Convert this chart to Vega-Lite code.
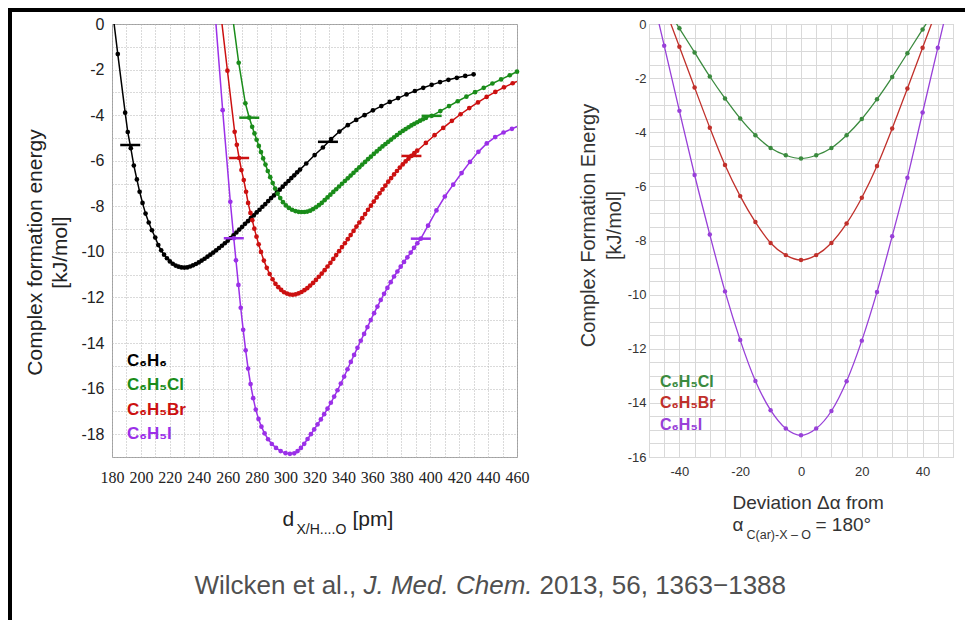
{
  "$schema": "https://vega.github.io/schema/vega-lite/v6.json",
  "background": "white",
  "padding": {"left": 8, "top": 8, "right": 0, "bottom": 0},
  "bounds": "flush",
  "spacing": 132,
  "resolve": {"scale": {"color": "independent"}, "legend": {"color": "independent"}},
  "config": {
    "font": "Liberation Sans",
    "axis": {"ticks": false, "domain": false},
    "legend": {"strokeWidth": 4}
  },
  "datasets": {
    "left": [
      {"s":"C₆H₆","x":180.9,"y":0.3,"edge":true},
      {"s":"C₆H₆","x":184.0,"y":-1.32},{"s":"C₆H₆","x":189.1,"y":-3.89},{"s":"C₆H₆","x":190.9,"y":-4.74},{"s":"C₆H₆","x":193.0,"y":-5.45},
      {"s":"C₆H₆","x":195.1,"y":-6.21},{"s":"C₆H₆","x":197.2,"y":-6.82},{"s":"C₆H₆","x":199.1,"y":-7.36},{"s":"C₆H₆","x":201.1,"y":-7.85},
      {"s":"C₆H₆","x":203.2,"y":-8.32},{"s":"C₆H₆","x":205.4,"y":-8.71},{"s":"C₆H₆","x":207.6,"y":-9.05},{"s":"C₆H₆","x":209.9,"y":-9.37},
      {"s":"C₆H₆","x":212,"y":-9.70},{"s":"C₆H₆","x":214,"y":-9.93},{"s":"C₆H₆","x":216,"y":-10.12},{"s":"C₆H₆","x":218,"y":-10.28},
      {"s":"C₆H₆","x":220,"y":-10.42},{"s":"C₆H₆","x":222,"y":-10.52},{"s":"C₆H₆","x":224,"y":-10.60},{"s":"C₆H₆","x":226,"y":-10.65},
      {"s":"C₆H₆","x":228,"y":-10.68},{"s":"C₆H₆","x":230,"y":-10.69},{"s":"C₆H₆","x":232,"y":-10.68},{"s":"C₆H₆","x":234,"y":-10.64},
      {"s":"C₆H₆","x":236,"y":-10.59},{"s":"C₆H₆","x":238,"y":-10.53},{"s":"C₆H₆","x":240,"y":-10.46},{"s":"C₆H₆","x":242,"y":-10.38},
      {"s":"C₆H₆","x":244,"y":-10.30},{"s":"C₆H₆","x":246,"y":-10.21},{"s":"C₆H₆","x":248,"y":-10.12},{"s":"C₆H₆","x":250,"y":-10.03},
      {"s":"C₆H₆","x":252,"y":-9.93},{"s":"C₆H₆","x":254,"y":-9.83},{"s":"C₆H₆","x":256,"y":-9.73},{"s":"C₆H₆","x":258,"y":-9.62},
      {"s":"C₆H₆","x":260,"y":-9.51},{"s":"C₆H₆","x":262,"y":-9.39},{"s":"C₆H₆","x":264,"y":-9.27},{"s":"C₆H₆","x":266,"y":-9.15},
      {"s":"C₆H₆","x":268,"y":-9.02},{"s":"C₆H₆","x":270,"y":-8.90},{"s":"C₆H₆","x":272,"y":-8.77},{"s":"C₆H₆","x":274,"y":-8.65},
      {"s":"C₆H₆","x":276,"y":-8.52},{"s":"C₆H₆","x":278,"y":-8.40},{"s":"C₆H₆","x":280,"y":-8.27},{"s":"C₆H₆","x":282,"y":-8.15},
      {"s":"C₆H₆","x":284,"y":-8.02},{"s":"C₆H₆","x":286,"y":-7.90},{"s":"C₆H₆","x":288,"y":-7.77},{"s":"C₆H₆","x":290,"y":-7.64},
      {"s":"C₆H₆","x":292,"y":-7.52},{"s":"C₆H₆","x":294,"y":-7.39},{"s":"C₆H₆","x":296,"y":-7.27},{"s":"C₆H₆","x":298,"y":-7.14},
      {"s":"C₆H₆","x":300,"y":-7.01},{"s":"C₆H₆","x":302,"y":-6.89},{"s":"C₆H₆","x":304,"y":-6.76},{"s":"C₆H₆","x":306,"y":-6.64},
      {"s":"C₆H₆","x":308,"y":-6.51},{"s":"C₆H₆","x":310,"y":-6.39},{"s":"C₆H₆","x":314.3,"y":-6.12},{"s":"C₆H₆","x":320.1,"y":-5.75},
      {"s":"C₆H₆","x":325.8,"y":-5.42},{"s":"C₆H₆","x":331.5,"y":-5.05},{"s":"C₆H₆","x":337.2,"y":-4.72},{"s":"C₆H₆","x":343.0,"y":-4.44},
      {"s":"C₆H₆","x":348.8,"y":-4.21},{"s":"C₆H₆","x":354.6,"y":-4.00},{"s":"C₆H₆","x":360.4,"y":-3.79},{"s":"C₆H₆","x":366.2,"y":-3.60},
      {"s":"C₆H₆","x":372.0,"y":-3.42},{"s":"C₆H₆","x":377.8,"y":-3.25},{"s":"C₆H₆","x":383.6,"y":-3.09},{"s":"C₆H₆","x":389.4,"y":-2.94},
      {"s":"C₆H₆","x":395.2,"y":-2.80},{"s":"C₆H₆","x":401.0,"y":-2.67},{"s":"C₆H₆","x":406.8,"y":-2.55},{"s":"C₆H₆","x":412.6,"y":-2.45},
      {"s":"C₆H₆","x":418.4,"y":-2.36},{"s":"C₆H₆","x":424.2,"y":-2.28},{"s":"C₆H₆","x":430.0,"y":-2.21},

      {"s":"C₆H₅Cl","x":263.4,"y":0.3,"edge":true},
      {"s":"C₆H₅Cl","x":267.6,"y":-1.70},{"s":"C₆H₅Cl","x":272.2,"y":-3.48},{"s":"C₆H₅Cl","x":274.9,"y":-4.11},{"s":"C₆H₅Cl","x":276.9,"y":-4.51},
      {"s":"C₆H₅Cl","x":278.5,"y":-4.80},{"s":"C₆H₅Cl","x":280.0,"y":-5.08},{"s":"C₆H₅Cl","x":281.5,"y":-5.35},{"s":"C₆H₅Cl","x":283.0,"y":-5.62},
      {"s":"C₆H₅Cl","x":284.5,"y":-5.90},{"s":"C₆H₅Cl","x":286.1,"y":-6.17},{"s":"C₆H₅Cl","x":287.7,"y":-6.45},{"s":"C₆H₅Cl","x":289.4,"y":-6.72},
      {"s":"C₆H₅Cl","x":291.1,"y":-6.98},{"s":"C₆H₅Cl","x":292.8,"y":-7.22},{"s":"C₆H₅Cl","x":294.5,"y":-7.44},{"s":"C₆H₅Cl","x":296.3,"y":-7.64},
      {"s":"C₆H₅Cl","x":298.2,"y":-7.82},{"s":"C₆H₅Cl","x":300.2,"y":-7.96},{"s":"C₆H₅Cl","x":302.3,"y":-8.07},{"s":"C₆H₅Cl","x":304.5,"y":-8.15},
      {"s":"C₆H₅Cl","x":306.8,"y":-8.21},{"s":"C₆H₅Cl","x":309,"y":-8.24},{"s":"C₆H₅Cl","x":311,"y":-8.25},{"s":"C₆H₅Cl","x":313,"y":-8.25},
      {"s":"C₆H₅Cl","x":315,"y":-8.23},{"s":"C₆H₅Cl","x":317,"y":-8.19},{"s":"C₆H₅Cl","x":319,"y":-8.12},{"s":"C₆H₅Cl","x":321,"y":-8.04},
      {"s":"C₆H₅Cl","x":323,"y":-7.95},{"s":"C₆H₅Cl","x":325,"y":-7.85},{"s":"C₆H₅Cl","x":327,"y":-7.73},{"s":"C₆H₅Cl","x":329,"y":-7.61},
      {"s":"C₆H₅Cl","x":331,"y":-7.49},{"s":"C₆H₅Cl","x":333,"y":-7.37},{"s":"C₆H₅Cl","x":335,"y":-7.25},{"s":"C₆H₅Cl","x":337,"y":-7.13},
      {"s":"C₆H₅Cl","x":339,"y":-7.01},{"s":"C₆H₅Cl","x":341,"y":-6.89},{"s":"C₆H₅Cl","x":343,"y":-6.77},{"s":"C₆H₅Cl","x":345,"y":-6.65},
      {"s":"C₆H₅Cl","x":347,"y":-6.53},{"s":"C₆H₅Cl","x":349,"y":-6.41},{"s":"C₆H₅Cl","x":351,"y":-6.29},{"s":"C₆H₅Cl","x":353,"y":-6.17},
      {"s":"C₆H₅Cl","x":355,"y":-6.05},{"s":"C₆H₅Cl","x":357,"y":-5.93},{"s":"C₆H₅Cl","x":359,"y":-5.82},{"s":"C₆H₅Cl","x":361,"y":-5.70},
      {"s":"C₆H₅Cl","x":363,"y":-5.59},{"s":"C₆H₅Cl","x":365,"y":-5.48},{"s":"C₆H₅Cl","x":367,"y":-5.37},{"s":"C₆H₅Cl","x":369,"y":-5.27},
      {"s":"C₆H₅Cl","x":371,"y":-5.17},{"s":"C₆H₅Cl","x":373,"y":-5.07},{"s":"C₆H₅Cl","x":375,"y":-4.97},{"s":"C₆H₅Cl","x":377,"y":-4.87},
      {"s":"C₆H₅Cl","x":379,"y":-4.78},{"s":"C₆H₅Cl","x":381,"y":-4.69},{"s":"C₆H₅Cl","x":383,"y":-4.61},{"s":"C₆H₅Cl","x":385,"y":-4.53},
      {"s":"C₆H₅Cl","x":387,"y":-4.45},{"s":"C₆H₅Cl","x":389,"y":-4.38},{"s":"C₆H₅Cl","x":391,"y":-4.31},{"s":"C₆H₅Cl","x":393,"y":-4.24},
      {"s":"C₆H₅Cl","x":395,"y":-4.18},{"s":"C₆H₅Cl","x":397,"y":-4.12},{"s":"C₆H₅Cl","x":401,"y":-4.03},{"s":"C₆H₅Cl","x":407,"y":-3.82},
      {"s":"C₆H₅Cl","x":413,"y":-3.60},{"s":"C₆H₅Cl","x":419,"y":-3.39},{"s":"C₆H₅Cl","x":425,"y":-3.19},{"s":"C₆H₅Cl","x":431,"y":-2.99},
      {"s":"C₆H₅Cl","x":437,"y":-2.80},{"s":"C₆H₅Cl","x":443,"y":-2.61},{"s":"C₆H₅Cl","x":449,"y":-2.43},{"s":"C₆H₅Cl","x":455,"y":-2.25},
      {"s":"C₆H₅Cl","x":460,"y":-2.09},

      {"s":"C₆H₅Br","x":255.5,"y":0.3,"edge":true},
      {"s":"C₆H₅Br","x":259.8,"y":-2.05},{"s":"C₆H₅Br","x":264.8,"y":-4.73},{"s":"C₆H₅Br","x":266.3,"y":-5.30},{"s":"C₆H₅Br","x":267.9,"y":-5.88},
      {"s":"C₆H₅Br","x":269.5,"y":-6.41},{"s":"C₆H₅Br","x":271.1,"y":-6.85},{"s":"C₆H₅Br","x":272.7,"y":-7.36},{"s":"C₆H₅Br","x":274.1,"y":-7.85},
      {"s":"C₆H₅Br","x":275.7,"y":-8.29},{"s":"C₆H₅Br","x":277.0,"y":-8.61},{"s":"C₆H₅Br","x":278.4,"y":-8.98},{"s":"C₆H₅Br","x":279.9,"y":-9.33},
      {"s":"C₆H₅Br","x":281.4,"y":-9.67},{"s":"C₆H₅Br","x":283,"y":-10.00},{"s":"C₆H₅Br","x":285,"y":-10.38},{"s":"C₆H₅Br","x":287,"y":-10.70},
      {"s":"C₆H₅Br","x":289,"y":-10.97},{"s":"C₆H₅Br","x":291,"y":-11.20},{"s":"C₆H₅Br","x":293,"y":-11.40},{"s":"C₆H₅Br","x":295,"y":-11.55},
      {"s":"C₆H₅Br","x":297,"y":-11.67},{"s":"C₆H₅Br","x":299,"y":-11.77},{"s":"C₆H₅Br","x":301,"y":-11.83},{"s":"C₆H₅Br","x":303,"y":-11.87},
      {"s":"C₆H₅Br","x":305,"y":-11.88},{"s":"C₆H₅Br","x":307,"y":-11.86},{"s":"C₆H₅Br","x":309,"y":-11.82},{"s":"C₆H₅Br","x":311,"y":-11.76},
      {"s":"C₆H₅Br","x":313,"y":-11.68},{"s":"C₆H₅Br","x":315,"y":-11.59},{"s":"C₆H₅Br","x":317,"y":-11.48},{"s":"C₆H₅Br","x":319,"y":-11.36},
      {"s":"C₆H₅Br","x":321,"y":-11.23},{"s":"C₆H₅Br","x":323,"y":-11.09},{"s":"C₆H₅Br","x":325,"y":-10.95},{"s":"C₆H₅Br","x":327,"y":-10.80},
      {"s":"C₆H₅Br","x":329,"y":-10.64},{"s":"C₆H₅Br","x":331,"y":-10.48},{"s":"C₆H₅Br","x":333,"y":-10.31},{"s":"C₆H₅Br","x":335,"y":-10.14},
      {"s":"C₆H₅Br","x":337,"y":-9.97},{"s":"C₆H₅Br","x":339,"y":-9.79},{"s":"C₆H₅Br","x":341,"y":-9.62},{"s":"C₆H₅Br","x":343,"y":-9.44},
      {"s":"C₆H₅Br","x":345,"y":-9.26},{"s":"C₆H₅Br","x":347,"y":-9.08},{"s":"C₆H₅Br","x":349,"y":-8.89},{"s":"C₆H₅Br","x":351,"y":-8.71},
      {"s":"C₆H₅Br","x":353,"y":-8.52},{"s":"C₆H₅Br","x":355,"y":-8.34},{"s":"C₆H₅Br","x":357,"y":-8.15},{"s":"C₆H₅Br","x":359,"y":-7.97},
      {"s":"C₆H₅Br","x":361,"y":-7.79},{"s":"C₆H₅Br","x":363,"y":-7.61},{"s":"C₆H₅Br","x":365,"y":-7.43},{"s":"C₆H₅Br","x":367,"y":-7.26},
      {"s":"C₆H₅Br","x":369,"y":-7.09},{"s":"C₆H₅Br","x":371,"y":-6.92},{"s":"C₆H₅Br","x":373,"y":-6.76},{"s":"C₆H₅Br","x":375,"y":-6.60},
      {"s":"C₆H₅Br","x":377,"y":-6.45},{"s":"C₆H₅Br","x":379,"y":-6.30},{"s":"C₆H₅Br","x":381,"y":-6.16},{"s":"C₆H₅Br","x":383,"y":-6.03},
      {"s":"C₆H₅Br","x":385,"y":-5.91},{"s":"C₆H₅Br","x":387,"y":-5.79},{"s":"C₆H₅Br","x":389,"y":-5.67},{"s":"C₆H₅Br","x":391,"y":-5.56},
      {"s":"C₆H₅Br","x":397,"y":-5.22},{"s":"C₆H₅Br","x":403,"y":-4.88},{"s":"C₆H₅Br","x":409,"y":-4.56},{"s":"C₆H₅Br","x":415,"y":-4.25},
      {"s":"C₆H₅Br","x":421,"y":-3.96},{"s":"C₆H₅Br","x":427,"y":-3.69},{"s":"C₆H₅Br","x":433,"y":-3.44},{"s":"C₆H₅Br","x":439,"y":-3.20},
      {"s":"C₆H₅Br","x":445,"y":-2.98},{"s":"C₆H₅Br","x":451,"y":-2.78},{"s":"C₆H₅Br","x":457,"y":-2.60},{"s":"C₆H₅Br","x":460,"y":-2.52,"edge":true},

      {"s":"C₆H₅I","x":251.5,"y":0.3,"edge":true},
      {"s":"C₆H₅I","x":256.5,"y":-3.78},{"s":"C₆H₅I","x":261.8,"y":-7.80},{"s":"C₆H₅I","x":264.2,"y":-9.40},{"s":"C₆H₅I","x":265.7,"y":-10.37},
      {"s":"C₆H₅I","x":267.4,"y":-11.45},{"s":"C₆H₅I","x":269.0,"y":-12.45},{"s":"C₆H₅I","x":270.7,"y":-13.42},{"s":"C₆H₅I","x":272.4,"y":-14.32},
      {"s":"C₆H₅I","x":274.1,"y":-15.12},{"s":"C₆H₅I","x":275.8,"y":-15.80},{"s":"C₆H₅I","x":277.6,"y":-16.42},{"s":"C₆H₅I","x":279.4,"y":-16.92},
      {"s":"C₆H₅I","x":281.3,"y":-17.33},{"s":"C₆H₅I","x":283.3,"y":-17.67},{"s":"C₆H₅I","x":285.5,"y":-17.96},{"s":"C₆H₅I","x":287.9,"y":-18.22},
      {"s":"C₆H₅I","x":290.5,"y":-18.43},{"s":"C₆H₅I","x":293.4,"y":-18.60},{"s":"C₆H₅I","x":296.6,"y":-18.74},{"s":"C₆H₅I","x":300.0,"y":-18.83},
      {"s":"C₆H₅I","x":303.0,"y":-18.86},{"s":"C₆H₅I","x":306.0,"y":-18.84},{"s":"C₆H₅I","x":308.3,"y":-18.74},{"s":"C₆H₅I","x":310.6,"y":-18.60},
      {"s":"C₆H₅I","x":312.9,"y":-18.42},{"s":"C₆H₅I","x":315.2,"y":-18.21},{"s":"C₆H₅I","x":317.5,"y":-18.00},{"s":"C₆H₅I","x":319.8,"y":-17.79},
      {"s":"C₆H₅I","x":322.1,"y":-17.57},{"s":"C₆H₅I","x":324.4,"y":-17.35},{"s":"C₆H₅I","x":326.7,"y":-17.12},{"s":"C₆H₅I","x":329.0,"y":-16.88},
      {"s":"C₆H₅I","x":331.3,"y":-16.62},{"s":"C₆H₅I","x":333.6,"y":-16.35},{"s":"C₆H₅I","x":335.9,"y":-16.07},{"s":"C₆H₅I","x":338.2,"y":-15.78},
      {"s":"C₆H₅I","x":340.5,"y":-15.47},{"s":"C₆H₅I","x":342.8,"y":-15.15},{"s":"C₆H₅I","x":345.1,"y":-14.83},{"s":"C₆H₅I","x":347.4,"y":-14.52},
      {"s":"C₆H₅I","x":349.7,"y":-14.21},{"s":"C₆H₅I","x":352.0,"y":-13.90},{"s":"C₆H₅I","x":354.3,"y":-13.60},{"s":"C₆H₅I","x":356.6,"y":-13.30},
      {"s":"C₆H₅I","x":358.9,"y":-12.99},{"s":"C₆H₅I","x":361.2,"y":-12.69},{"s":"C₆H₅I","x":363.5,"y":-12.40},{"s":"C₆H₅I","x":365.8,"y":-12.11},
      {"s":"C₆H₅I","x":368.1,"y":-11.84},{"s":"C₆H₅I","x":370.4,"y":-11.58},{"s":"C₆H₅I","x":372.7,"y":-11.33},{"s":"C₆H₅I","x":375.0,"y":-11.08},
      {"s":"C₆H₅I","x":377.3,"y":-10.86},{"s":"C₆H₅I","x":379.6,"y":-10.65},{"s":"C₆H₅I","x":381.9,"y":-10.44},{"s":"C₆H₅I","x":384.2,"y":-10.24},
      {"s":"C₆H₅I","x":386.5,"y":-10.03},{"s":"C₆H₅I","x":388.8,"y":-9.82},{"s":"C₆H₅I","x":391.1,"y":-9.62},{"s":"C₆H₅I","x":393.5,"y":-9.42},
      {"s":"C₆H₅I","x":398.5,"y":-8.85},{"s":"C₆H₅I","x":404.3,"y":-8.18},{"s":"C₆H₅I","x":410.1,"y":-7.57},{"s":"C₆H₅I","x":415.9,"y":-7.05},
      {"s":"C₆H₅I","x":421.7,"y":-6.54},{"s":"C₆H₅I","x":427.5,"y":-6.05},{"s":"C₆H₅I","x":433.3,"y":-5.61},{"s":"C₆H₅I","x":439.1,"y":-5.24},
      {"s":"C₆H₅I","x":444.9,"y":-4.96},{"s":"C₆H₅I","x":450.7,"y":-4.76},{"s":"C₆H₅I","x":456.5,"y":-4.60},{"s":"C₆H₅I","x":460,"y":-4.50,"edge":true}
    ],
    "leftCross": [
      {"s":"C₆H₆","x":192.6,"y":-5.31},{"s":"C₆H₆","x":329.3,"y":-5.17},
      {"s":"C₆H₅Cl","x":274.9,"y":-4.11},{"s":"C₆H₅Cl","x":401,"y":-4.03},
      {"s":"C₆H₅Br","x":267.9,"y":-5.88},{"s":"C₆H₅Br","x":387,"y":-5.79},
      {"s":"C₆H₅I","x":264.2,"y":-9.40},{"s":"C₆H₅I","x":393.5,"y":-9.42}
    ],
    "right": [
      {"s":"C₆H₅Cl","x":-42.6,"y":0.3,"edge":true},
      {"s":"C₆H₅Cl","x":-40,"y":-0.16},{"s":"C₆H₅Cl","x":-35,"y":-1.05},{"s":"C₆H₅Cl","x":-30,"y":-1.94},{"s":"C₆H₅Cl","x":-25,"y":-2.75},
      {"s":"C₆H₅Cl","x":-20,"y":-3.49},{"s":"C₆H₅Cl","x":-15,"y":-4.11},{"s":"C₆H₅Cl","x":-10,"y":-4.58},{"s":"C₆H₅Cl","x":-5,"y":-4.85},
      {"s":"C₆H₅Cl","x":0,"y":-4.97},{"s":"C₆H₅Cl","x":5,"y":-4.85},{"s":"C₆H₅Cl","x":10,"y":-4.58},{"s":"C₆H₅Cl","x":15,"y":-4.11},
      {"s":"C₆H₅Cl","x":20,"y":-3.51},{"s":"C₆H₅Cl","x":25,"y":-2.78},{"s":"C₆H₅Cl","x":30,"y":-1.96},{"s":"C₆H₅Cl","x":35,"y":-1.08},
      {"s":"C₆H₅Cl","x":40,"y":-0.20},{"s":"C₆H₅Cl","x":42.8,"y":0.3,"edge":true},

      {"s":"C₆H₅Br","x":-43.8,"y":0.3,"edge":true},
      {"s":"C₆H₅Br","x":-40,"y":-0.84},{"s":"C₆H₅Br","x":-35,"y":-2.35},{"s":"C₆H₅Br","x":-30,"y":-3.83},{"s":"C₆H₅Br","x":-25,"y":-5.21},
      {"s":"C₆H₅Br","x":-20,"y":-6.36},{"s":"C₆H₅Br","x":-15,"y":-7.32},{"s":"C₆H₅Br","x":-10,"y":-8.09},{"s":"C₆H₅Br","x":-5,"y":-8.54},
      {"s":"C₆H₅Br","x":0,"y":-8.72},{"s":"C₆H₅Br","x":5,"y":-8.54},{"s":"C₆H₅Br","x":10,"y":-8.09},{"s":"C₆H₅Br","x":15,"y":-7.37},
      {"s":"C₆H₅Br","x":20,"y":-6.42},{"s":"C₆H₅Br","x":25,"y":-5.25},{"s":"C₆H₅Br","x":30,"y":-3.86},{"s":"C₆H₅Br","x":35,"y":-2.38},
      {"s":"C₆H₅Br","x":40,"y":-0.88},{"s":"C₆H₅Br","x":43.9,"y":0.3,"edge":true},

      {"s":"C₆H₅I","x":-47.3,"y":0.3,"edge":true},
      {"s":"C₆H₅I","x":-45,"y":-0.80},{"s":"C₆H₅I","x":-40,"y":-3.21},{"s":"C₆H₅I","x":-35,"y":-5.58},{"s":"C₆H₅I","x":-30,"y":-7.78},
      {"s":"C₆H₅I","x":-25,"y":-9.88},{"s":"C₆H₅I","x":-20,"y":-11.68},{"s":"C₆H₅I","x":-15,"y":-13.19},{"s":"C₆H₅I","x":-10,"y":-14.27},
      {"s":"C₆H₅I","x":-5,"y":-14.95},{"s":"C₆H₅I","x":0,"y":-15.20},{"s":"C₆H₅I","x":5,"y":-14.95},{"s":"C₆H₅I","x":10,"y":-14.30},
      {"s":"C₆H₅I","x":15,"y":-13.20},{"s":"C₆H₅I","x":20,"y":-11.70},{"s":"C₆H₅I","x":25,"y":-9.90},{"s":"C₆H₅I","x":30,"y":-7.84},
      {"s":"C₆H₅I","x":35,"y":-5.68},{"s":"C₆H₅I","x":40,"y":-3.27},{"s":"C₆H₅I","x":45,"y":-0.88},{"s":"C₆H₅I","x":47.5,"y":0.3,"edge":true}
    ]
  },
  "hconcat": [
    {
      "width": 405,
      "height": 433,
      "view": {"stroke": "#a0a0a0"},
      "resolve": {"axis": {"x": "independent"}},
      "encoding": {
        "y": {"field": "y", "type": "quantitative",
          "scale": {"domain": [-19, 0], "nice": false, "zero": false},
          "axis": {
            "values": [0,-1,-2,-3,-4,-5,-6,-7,-8,-9,-10,-11,-12,-13,-14,-15,-16,-17,-18,-19],
            "labelExpr": "datum.value % 2 === 0 ? toString(datum.value) : ''",
            "grid": true, "gridColor": "#b5b5b5", "gridDash": [1, 2], "gridWidth": 1,
            "labelFontSize": 16, "labelColor": "#222222", "labelPadding": 8, "labelOverlap": false,
            "title": ["Complex formation energy", "[kJ/mol]"],
            "titleFontSize": 21, "titleFontWeight": "normal", "titleColor": "#222222", "titleLineHeight": 25,
            "titleAngle": 270, "titleAlign": "center", "titleBaseline": "bottom", "titleX": -67, "titleY": 228
          }
        },
        "color": {"field": "s", "type": "nominal",
          "scale": {"domain": ["C₆H₆", "C₆H₅Cl", "C₆H₅Br", "C₆H₅I"], "range": ["#000000", "#1a8c1a", "#cc1010", "#9b30e8"]},
          "legend": {
            "title": null, "orient": "bottom-left", "offset": 15, "padding": 0,
            "symbolSize": 0, "symbolStrokeWidth": 0, "symbolOpacity": 0, "symbolType": "circle",
            "labelOffset": -17, "labelFontSize": 17, "labelFontWeight": "bold", "labelLimit": 300, "rowPadding": 6.5,
            "labelColor": {"expr": "datum.value === 'C₆H₆' ? '#000000' : datum.value === 'C₆H₅Cl' ? '#1a8c1a' : datum.value === 'C₆H₅Br' ? '#cc1010' : '#9b30e8'"}
          }
        }
      },
      "layer": [
        {"data": {"name": "left"}, "mark": {"type": "line", "clip": true, "strokeWidth": 1.5, "interpolate": "linear"},
          "encoding": {
            "x": {"field": "x", "type": "quantitative",
              "scale": {"domain": [180, 460], "nice": false, "zero": false},
              "axis": {
                "values": [180,190,200,210,220,230,240,250,260,270,280,290,300,310,320,330,340,350,360,370,380,390,400,410,420,430,440,450,460],
                "labelExpr": "datum.value % 20 === 0 ? toString(datum.value) : ''",
                "grid": true, "gridColor": "#b5b5b5", "gridDash": [1, 2], "gridWidth": 1,
                "labelFont": "Liberation Sans Narrow", "labelFontSize": 16, "labelColor": "#222222", "labelPadding": 12,
                "labelFlush": false, "labelOverlap": false,
                "title": "d",
                "titleFontSize": 21, "titleFontWeight": "normal", "titleColor": "#222222",
                "titleAlign": "left", "titleX": 170, "titleY": 68, "titleBaseline": "alphabetic"
              }
            }
          }
        },
        {"data": {"name": "left"}, "transform": [{"filter": "!datum.edge"}], "mark": {"type": "circle", "size": 22, "opacity": 1},
          "encoding": {
            "x": {"field": "x", "type": "quantitative",
              "scale": {"domain": [180, 460], "nice": false, "zero": false},
              "axis": {
                "orient": "bottom", "labels": false, "grid": false, "ticks": false, "domain": false,
                "title": "[pm]",
                "titleFontSize": 21, "titleFontWeight": "normal", "titleColor": "#222222",
                "titleAlign": "left", "titleX": 240, "titleY": 68, "titleBaseline": "alphabetic"
              }
            }
          }
        },
        {"data": {"name": "leftCross"}, "mark": {"type": "tick", "orient": "horizontal", "size": 20, "thickness": 2.5, "opacity": 1},
          "encoding": {
            "x": {"field": "x", "type": "quantitative",
              "scale": {"domain": [180, 460], "nice": false, "zero": false},
              "axis": {
                "orient": "bottom", "labels": false, "grid": false, "ticks": false, "domain": false,
                "title": "X/H....O",
                "titleFontSize": 14, "titleFontWeight": "normal", "titleColor": "#222222",
                "titleAlign": "left", "titleX": 184, "titleY": 76, "titleBaseline": "alphabetic"
              }
            }
          }
        },
        {"data": {"name": "leftCross"}, "mark": {"type": "point", "opacity": 0, "filled": true},
          "encoding": {
            "x": {"field": "x", "type": "quantitative",
              "scale": {"domain": [180, 460], "nice": false, "zero": false},
              "axis": {
                "orient": "bottom", "labels": false, "grid": false, "ticks": false, "domain": false,
                "title": "Wilcken et al.,",
                "titleFontSize": 26, "titleFontWeight": "normal", "titleColor": "#505050",
                "titleAlign": "left", "titleX": 82, "titleY": 136, "titleBaseline": "alphabetic"
              }
            },
            "shape": {"datum": "frame", "scale": {"range": ["circle"]},
              "legend": {
                "orient": "none", "legendX": -102, "legendY": -14, "title": null,
                "padding": 305, "strokeColor": "#000000",
                "symbolSize": 400, "symbolOpacity": 0, "symbolStrokeWidth": 0,
                "labelOffset": 352, "labelFontSize": 10, "labelExpr": "'\u00a0'"
              }
            }
          }
        },
        {"data": {"name": "leftCross"}, "mark": {"type": "point", "opacity": 0, "filled": true},
          "encoding": {
            "x": {"field": "x", "type": "quantitative",
              "scale": {"domain": [180, 460], "nice": false, "zero": false},
              "axis": {
                "orient": "bottom", "labels": false, "grid": false, "ticks": false, "domain": false,
                "title": "J. Med. Chem.",
                "titleFontSize": 26, "titleFontWeight": "normal", "titleFontStyle": "italic", "titleColor": "#505050",
                "titleAlign": "left", "titleX": 251, "titleY": 136, "titleBaseline": "alphabetic"
              }
            }
          }
        },
        {"data": {"name": "leftCross"}, "mark": {"type": "point", "opacity": 0, "filled": true},
          "encoding": {
            "x": {"field": "x", "type": "quantitative",
              "scale": {"domain": [180, 460], "nice": false, "zero": false},
              "axis": {
                "orient": "bottom", "labels": false, "grid": false, "ticks": false, "domain": false,
                "title": "2013, 56, 1363−1388",
                "titleFontSize": 26, "titleFontWeight": "normal", "titleColor": "#505050",
                "titleAlign": "left", "titleX": 427, "titleY": 136, "titleBaseline": "alphabetic"
              }
            }
          }
        }
      ]
    },
    {
      "width": 304,
      "height": 433,
      "view": {"stroke": "#c8c8c8"},
      "resolve": {"axis": {"x": "independent"}},
      "encoding": {
        "y": {"field": "y", "type": "quantitative",
          "scale": {"domain": [-16, 0], "nice": false, "zero": false},
          "axis": {
            "values": [0,-0.5,-1,-1.5,-2,-2.5,-3,-3.5,-4,-4.5,-5,-5.5,-6,-6.5,-7,-7.5,-8,-8.5,-9,-9.5,-10,-10.5,-11,-11.5,-12,-12.5,-13,-13.5,-14,-14.5,-15,-15.5,-16],
            "labelExpr": "datum.value % 2 === 0 ? toString(datum.value) : ''",
            "grid": true, "gridColor": "#d9d9d9", "gridWidth": 1,
            "labelFontSize": 13, "labelColor": "#333333", "labelPadding": 3, "labelOverlap": false,
            "title": ["Complex Formation Energy", "[kJ/mol]"],
            "titleFontSize": 20, "titleFontWeight": "normal", "titleColor": "#333333", "titleLineHeight": 26,
            "titleAngle": 270, "titleAlign": "center", "titleBaseline": "bottom", "titleX": -51, "titleY": 201
          }
        },
        "color": {"field": "s", "type": "nominal",
          "scale": {"domain": ["C₆H₅Cl", "C₆H₅Br", "C₆H₅I"], "range": ["#3a8a3e", "#c0302b", "#9840d8"]},
          "legend": {
            "title": "\u00a0", "titleOrient": "bottom", "titleFontSize": 10, "titlePadding": 1.6,
            "orient": "bottom-left", "offset": 12, "padding": 0,
            "symbolSize": 0, "symbolStrokeWidth": 0, "symbolOpacity": 0, "symbolType": "circle",
            "labelOffset": -17, "labelFontSize": 16, "labelFontWeight": "bold", "labelLimit": 300, "rowPadding": 5.3,
            "labelColor": {"expr": "datum.value === 'C₆H₅Cl' ? '#3a8a3e' : datum.value === 'C₆H₅Br' ? '#c0302b' : '#9840d8'"}
          }
        }
      },
      "layer": [
        {"data": {"name": "right"}, "mark": {"type": "line", "clip": true, "strokeWidth": 1.3, "interpolate": "monotone"},
          "encoding": {
            "x": {"field": "x", "type": "quantitative",
              "scale": {"domain": [-50, 50], "nice": false, "zero": false},
              "axis": {
                "values": [-50,-45,-40,-35,-30,-25,-20,-15,-10,-5,0,5,10,15,20,25,30,35,40,45,50],
                "labelExpr": "datum.value % 20 === 0 ? toString(datum.value) : ''",
                "grid": true, "gridColor": "#d9d9d9", "gridWidth": 1,
                "labelFontSize": 13, "labelColor": "#333333", "labelPadding": 8, "labelFlush": false, "labelOverlap": false,
                "title": ["Deviation Δα from", "α"],
                "titleFontSize": 19, "titleFontWeight": "normal", "titleColor": "#333333", "titleLineHeight": 22,
                "titleAlign": "left", "titleX": 83, "titleY": 51, "titleBaseline": "alphabetic"
              }
            }
          }
        },
        {"data": {"name": "right"}, "transform": [{"filter": "!datum.edge"}], "mark": {"type": "circle", "size": 20, "opacity": 1},
          "encoding": {
            "x": {"field": "x", "type": "quantitative",
              "scale": {"domain": [-50, 50], "nice": false, "zero": false},
              "axis": {
                "orient": "bottom", "labels": false, "grid": false, "ticks": false, "domain": false,
                "title": "= 180°",
                "titleFontSize": 19, "titleFontWeight": "normal", "titleColor": "#333333",
                "titleAlign": "left", "titleX": 166, "titleY": 73, "titleBaseline": "alphabetic"
              }
            }
          }
        },
        {"data": {"name": "right"}, "transform": [{"filter": "!datum.edge"}], "mark": {"type": "circle", "size": 20, "opacity": 0},
          "encoding": {
            "x": {"field": "x", "type": "quantitative",
              "scale": {"domain": [-50, 50], "nice": false, "zero": false},
              "axis": {
                "orient": "bottom", "labels": false, "grid": false, "ticks": false, "domain": false,
                "title": "C(ar)-X – O",
                "titleFontSize": 12.5, "titleFontWeight": "normal", "titleColor": "#333333",
                "titleAlign": "left", "titleX": 97, "titleY": 81, "titleBaseline": "alphabetic"
              }
            }
          }
        }
      ]
    }
  ]
}
